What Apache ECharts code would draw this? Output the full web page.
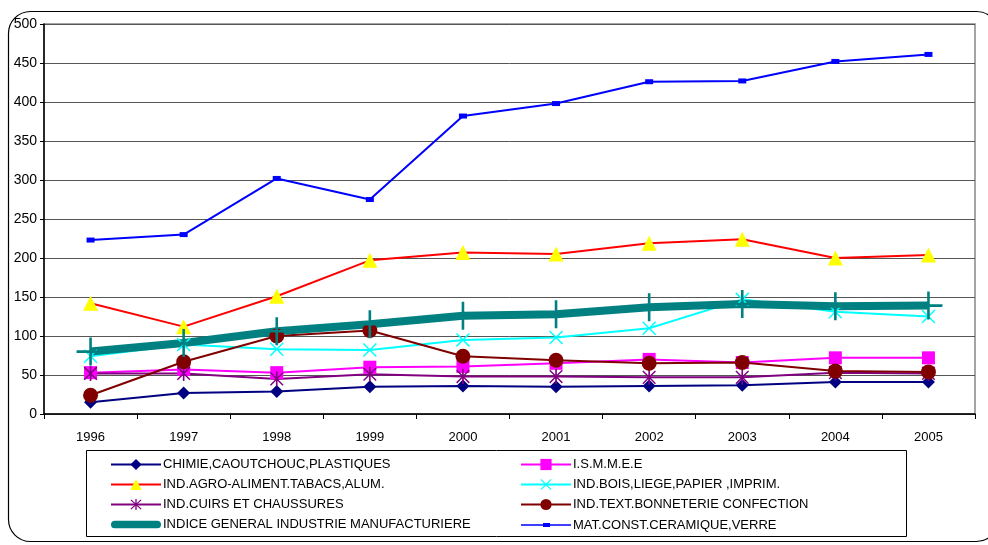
<!DOCTYPE html>
<html>
<head>
<meta charset="utf-8">
<script src="https://cdn.jsdelivr.net/npm/echarts@6/dist/echarts.min.js"></script>
<style>
  html, body { margin: 0; padding: 0; background: #fff; }
  #chart { width: 988px; height: 545px; }
</style>
</head>
<body>
<div id="chart"></div>
<script>
// Years on the category axis
const years = ['1996', '1997', '1998', '1999', '2000', '2001', '2002', '2003', '2004', '2005'];

// Production indices by industry branch
const chimie   = [15, 27, 29, 35, 36, 35, 36, 37, 41, 41];
const ismmee   = [53, 57, 53, 60, 61, 65, 70, 66, 72, 72];
const agro     = [142, 112, 151, 197, 207, 205, 219, 224, 200, 204];
const bois     = [74, 89, 83, 82, 95, 98, 110, 147, 131, 125];
const cuirs    = [52, 52, 45, 51, 48, 48, 47, 47, 53, 52];
const textile  = [24, 67, 100, 107, 74, 69, 65, 66, 55, 54];
const indice   = [80, 91, 106, 115, 126, 128, 137, 141, 138, 139];
const matConst = [223, 230, 302, 275, 382, 398, 426, 427, 452, 461];

const yTicks = { min: 0, max: 500, interval: 50 };

const FONT = '"Liberation Sans", Arial, sans-serif';

// Marker shapes
const xMark = 'path://M-10,-8.5L-8.5,-10L0,-1.5L8.5,-10L10,-8.5L1.5,0L10,8.5L8.5,10L0,1.5L-8.5,10L-10,8.5L-1.5,0Z';
const starMark = xMark.replace('Z', 'ZM-1.2,-11L1.2,-11L1.2,11L-1.2,11Z');
const plusMark = 'path://M-1.3,-14L1.3,-14L1.3,14L-1.3,14ZM-14,-1.3L14,-1.3L14,1.3L-14,1.3Z';

function line(name, data, color, width, symbol, size, markColor) {
  return {
    name: name,
    type: 'line',
    data: data,
    symbol: symbol,
    symbolSize: size,
    showSymbol: true,
    symbolKeepAspect: true,
    lineStyle: { color: color, width: width },
    itemStyle: { color: markColor || color, borderWidth: 0 },
    emphasis: { disabled: true },
    animation: false
  };
}

const series = [
  line('CHIMIE,CAOUTCHOUC,PLASTIQUES', chimie, '#000080', 2, 'diamond', 13),
  line('I.S.M.M.E.E', ismmee, '#FF00FF', 2, 'rect', 13),
  line('IND.AGRO-ALIMENT.TABACS,ALUM.', agro, '#FF0000', 2, 'triangle', 15, '#FFFF00'),
  line('IND.BOIS,LIEGE,PAPIER ,IMPRIM.', bois, '#00FFFF', 2, xMark, 14),
  line('IND.CUIRS ET CHAUSSURES', cuirs, '#800080', 2, starMark, 15),
  line('IND.TEXT.BONNETERIE CONFECTION', textile, '#800000', 2, 'circle', 15),
  line('INDICE GENERAL INDUSTRIE MANUFACTURIERE', indice, '#008080', 8, plusMark, 28),
  line('MAT.CONST.CERAMIQUE,VERRE', matConst, '#0000FF', 2, 'rect', [8, 5])
];

// Legend entries with specific icon tweaks for the thick index line and the blue line
function legendItem(s) {
  if (s.name.indexOf('INDICE') === 0) {
    return {
      name: s.name,
      icon: 'path://M3,0L47,0A3,3 0 0 1 47,8L3,8A3,3 0 0 1 3,0Z',
      itemStyle: { color: '#008080' }
    };
  }
  if (s.name.indexOf('MAT.') === 0) {
    return {
      name: s.name,
      icon: 'path://M0,0L0,0ZM0,6.2L50,6.2L50,7.8L0,7.8ZM22,5L29,5L29,9L22,9ZM50,14L50,14Z',
      itemStyle: { color: '#0000FF' }
    };
  }
  return { name: s.name };
}

const legendLeft = series.filter((s, i) => i % 2 === 0).map(legendItem);
const legendRight = series.filter((s, i) => i % 2 === 1).map(legendItem);

function legend(left, items) {
  return {
    data: items,
    orient: 'vertical',
    left: left,
    top: 453,
    itemWidth: 50,
    itemHeight: 14,
    itemGap: 7,
    selectedMode: false,
    textStyle: { fontFamily: FONT, fontSize: 13, color: '#000', padding: [0, 0, 0, -3] }
  };
}

const chart = echarts.init(document.getElementById('chart'), null, { renderer: 'canvas' });
chart.setOption({
  backgroundColor: '#fff',
  animation: false,
  grid: { left: 44, right: 13, top: 24, bottom: 131, show: true, borderColor: '#888', borderWidth: 1.5 },
  xAxis: {
    type: 'category',
    data: years,
    boundaryGap: true,
    axisLine: { lineStyle: { color: '#000', width: 1.5 } },
    axisTick: { show: true, alignWithLabel: false, length: 5, lineStyle: { color: '#000' } },
    axisLabel: { fontFamily: FONT, fontSize: 13, color: '#000', margin: 17 },
    splitLine: { show: false }
  },
  yAxis: {
    type: 'value',
    min: yTicks.min,
    max: yTicks.max,
    interval: yTicks.interval,
    axisLine: { show: true, lineStyle: { color: '#000', width: 1.5 } },
    axisTick: { show: true, length: 4, lineStyle: { color: '#000' } },
    axisLabel: { fontFamily: FONT, fontSize: 14, color: '#000', margin: 7 },
    splitLine: { show: true, lineStyle: { color: '#555', width: 1 } }
  },
  legend: [legend(105, legendLeft), legend(515, legendRight)],
  graphic: [
    {
      type: 'rect', silent: true, z: -1,
      shape: { x: 8.5, y: 11.5, width: 990, height: 530, r: 22 },
      style: { fill: 'none', stroke: '#000', lineWidth: 1.2 }
    },
    {
      type: 'rect', silent: true,
      shape: { x: 86.5, y: 450.5, width: 820, height: 86 },
      style: { fill: 'none', stroke: '#000', lineWidth: 1 }
    }
  ],
  series: series
});
</script>
</body>
</html>
